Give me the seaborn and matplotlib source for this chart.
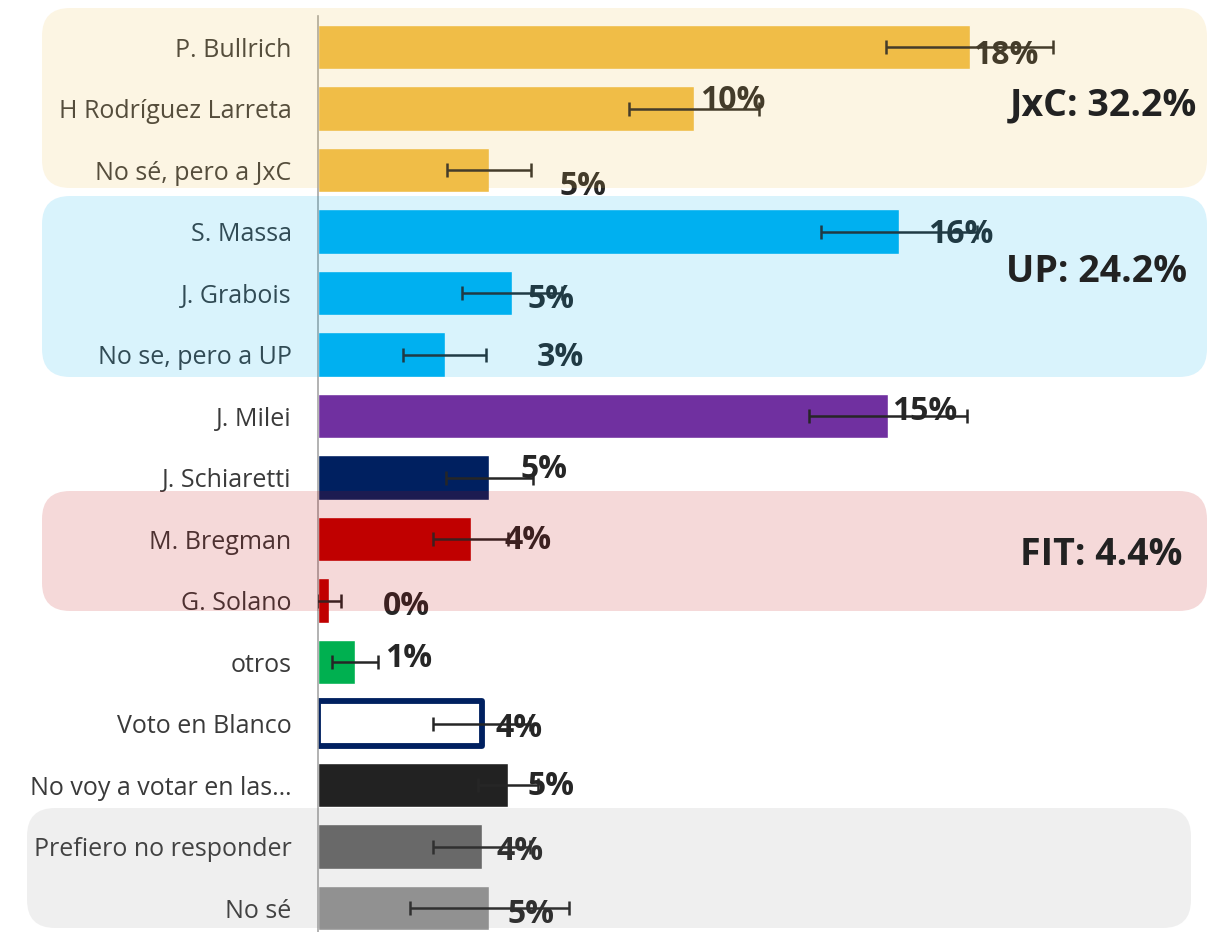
import matplotlib
matplotlib.use("Agg")
import matplotlib.pyplot as plt
import seaborn as sns
from matplotlib.patches import FancyBboxPatch

# data (percent of vote intention)
candidates = ["P. Bullrich", "H Rodríguez Larreta", "No sé, pero a JxC",
              "S. Massa", "J. Grabois", "No se, pero a UP",
              "J. Milei", "J. Schiaretti",
              "M. Bregman", "G. Solano",
              "otros", "Voto en Blanco", "No voy a votar en las…",
              "Prefiero no responder", "No sé"]
shares = [17.5, 10.1, 4.6,
          15.6, 5.2, 3.4,
          15.3, 4.6,
          4.1, 0.3,
          1.0, 4.4, 5.1,
          4.4, 4.6]
errors = [2.25, 1.75, 1.13,
          2.1, 1.34, 1.12,
          2.12, 1.17,
          1.0, 0.33,
          0.62, 1.3, 0.8,
          1.3, 2.13]
groups = {"JxC": [0, 1, 2], "UP": [3, 4, 5], "FIT": [8, 9]}

# styling
bar_colors = ["#F0BD47", "#F0BD47", "#F0BD47",
              "#00B0F0", "#00B0F0", "#00B0F0",
              "#7030A0", "#002060",
              "#C00000", "#C00000",
              "#00B050", "#FFFFFF", "#222222",
              "#666666", "#949494"]
# label offsets from bar end, in pixels (dx right, dy down)
label_offsets = [(3, 5), (6, -11), (70, 13),
                 (29, 0), (16, 3), (92, 0),
                 (4, -8), (31, -11),
                 (34, -2), (54, 3),
                 (30, -7), (14, 2), (20, -2),
                 (15, 2), (18, 3)]

sns.set_style("white")
plt.rcParams["font.family"] = ["Open Sans", "DejaVu Sans"]

W, H = 1227, 932
fig = plt.figure(figsize=(W / 100, H / 100), dpi=100)
ax = fig.add_axes([318 / W, 0, (W - 318) / W, (H - 16.25) / H])
ax.set_facecolor("none")

sns.barplot(x=shares, y=candidates, hue=candidates,
            palette=dict(zip(candidates, bar_colors)), saturation=1,
            legend=False, orient="h", width=0.72, ax=ax, zorder=2)

for p in ax.patches:
    idx = int(round(p.get_y() + p.get_height() / 2))
    if candidates[idx] == "Voto en Blanco":
        p.set_facecolor("white")
        p.set_edgecolor("#002060")
        p.set_linewidth(4.2)
        p.set_joinstyle("round")

ax.errorbar(shares, range(len(shares)), xerr=errors, fmt="none",
            ecolor="#262626", elinewidth=1.8, capsize=5, capthick=1.8,
            zorder=6)

for i, (v, (dx, dy)) in enumerate(zip(shares, label_offsets)):
    ax.annotate(f"{v:.0f}%", xy=(v, i), xytext=(dx * 0.72, -(dy + 3) * 0.72),
                textcoords="offset points", ha="left", va="center",
                fontsize=23, fontweight="bold", color="#262626", zorder=5)

ax.set_xlabel("")
ax.set_ylabel("")
ax.xaxis.set_visible(False)
for s in ["top", "right", "bottom"]:
    ax.spines[s].set_visible(False)
ax.spines["left"].set_color("#A6A6A6")
ax.spines["left"].set_linewidth(1.2)
ax.set_yticks(range(len(candidates)))
ax.set_yticklabels(candidates, fontsize=18, color="#3A3A3A")
ax.set_yticks([i - 0.5 for i in range(len(candidates) + 1)], minor=True)
ax.tick_params(axis="y", which="major", length=0, pad=19)
ax.tick_params(axis="y", which="minor", length=7, width=1.1,
               color="#A6A6A6", direction="out")
ax.set_xlim(0, (W - 318) / 37.24)
ax.set_ylim(14.39, -0.5)

# translucent group panels drawn over everything, in pixel coordinates
ov = fig.add_axes([0, 0, 1, 1], zorder=3)
ov.set_xlim(0, W)
ov.set_ylim(H, 0)
ov.set_facecolor("none")
ov.axis("off")
panels = [((42, 8, 1165, 180), "#F0BD47", 0.15),
          ((42, 196, 1165, 181), "#00B0F0", 0.15),
          ((42, 491, 1165, 120), "#C00000", 0.15),
          ((27, 808, 1164, 120), "#808080", 0.12)]
for (x, y, w, h), c, a in panels:
    ov.add_patch(FancyBboxPatch((x, y), w, h,
                                boxstyle="round,pad=0,rounding_size=28",
                                facecolor=c, edgecolor="none", alpha=a))

group_label_pos = {"JxC": (1197, 105), "UP": (1187, 272), "FIT": (1182, 555)}
for g, idxs in groups.items():
    total = sum(shares[i] for i in idxs)
    x, y = group_label_pos[g]
    ov.text(x, y, f"{g}: {total:.1f}%", ha="right", va="center",
            fontsize=27, fontweight="bold", color="#222222", zorder=5)

fig.savefig("out.png", dpi=100)
